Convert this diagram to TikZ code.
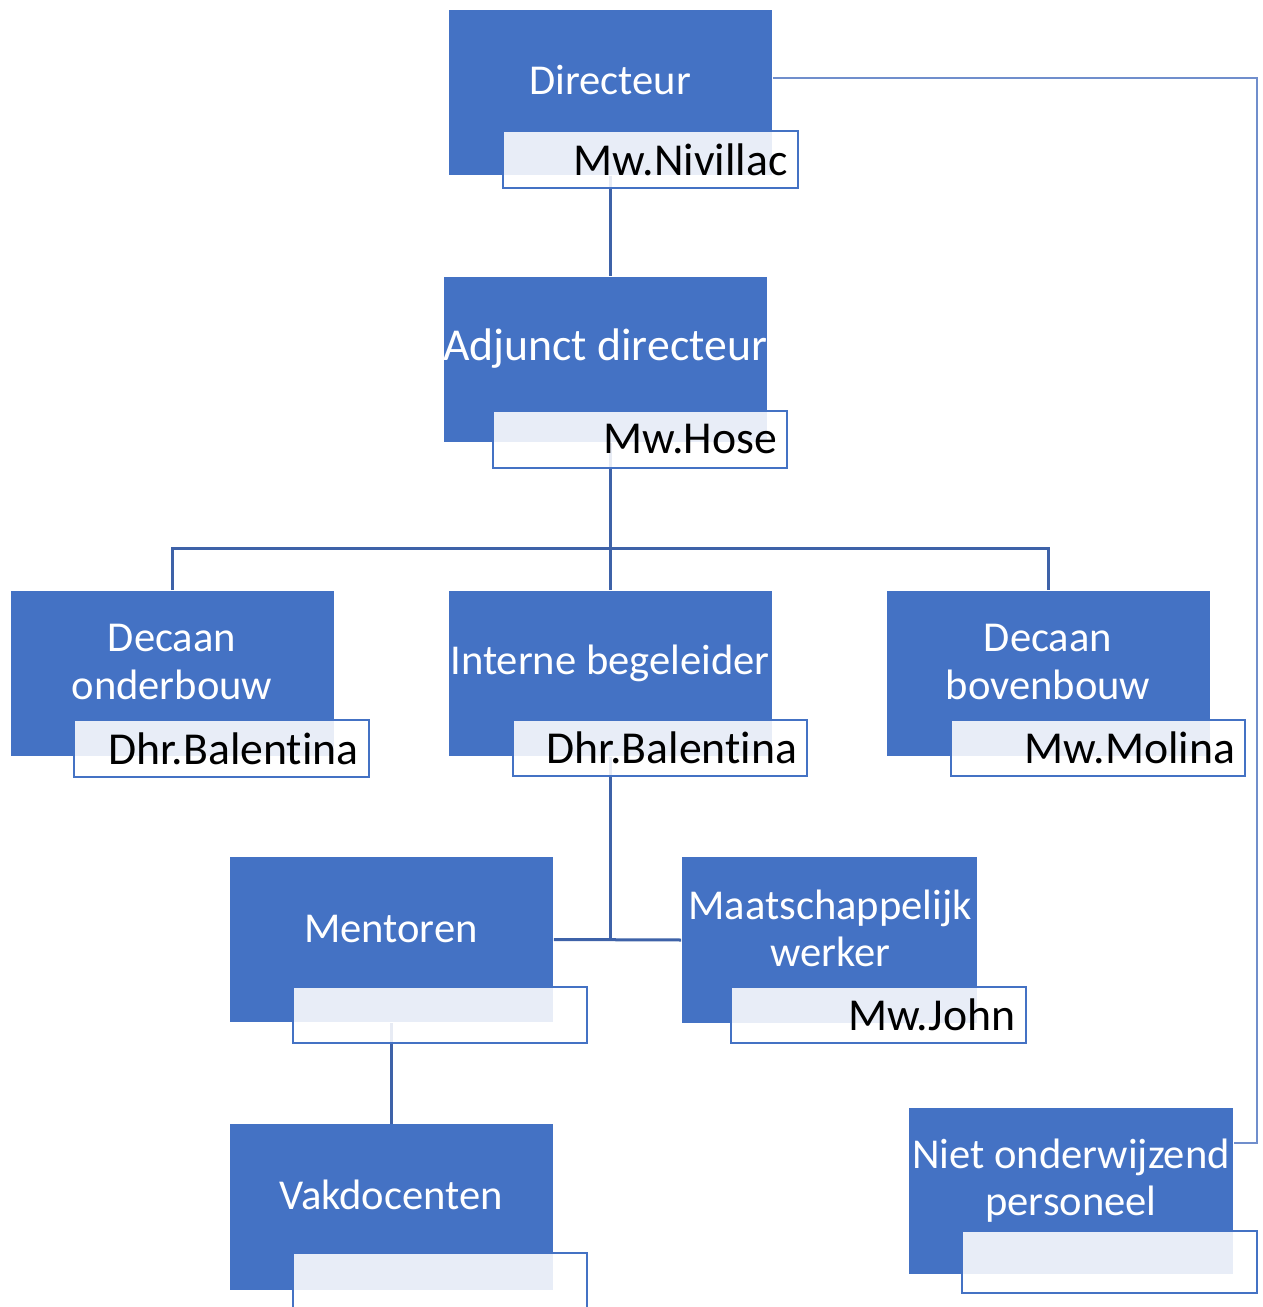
\documentclass[tikz,border=0pt]{standalone}
\usepackage{fontspec}
\setmainfont{Carlito}[Ligatures=CommonOff]
\usetikzlibrary{backgrounds}
\definecolor{roleblue}{RGB}{68,114,196}
\definecolor{linkblue}{RGB}{62,98,168}
\definecolor{lightlink}{RGB}{112,142,204}
\tikzset{
  role/.style={fill=roleblue, minimum width=3.23cm, minimum height=1.65cm, inner sep=0pt},
  roletext/.style={text=white, align=center, inner sep=0pt,
    font=\fontsize{12.1}{13.4}\selectfont},
  namebox/.style={draw=roleblue, line width=0.02cm, fill=white, fill opacity=0.88,
    text opacity=1, minimum width=2.94cm, minimum height=0.56cm, text width=2.74cm,
    align=right, inner xsep=0.1cm, inner ysep=0pt, font=\fontsize{13}{14}\selectfont},
  link/.style={draw=linkblue, line width=0.03cm},
  thinlink/.style={draw=lightlink, line width=0.015cm}
}
\begin{document}
\begin{tikzpicture}[x=0.01cm, y=-0.01cm]
  \useasboundingbox (0,0) rectangle (1262,1307);
  % roles
  \node[role] (dir) at (610.5,92.5) {};
  \node[role] (adj) at (605.5,359.5) {};
  \node[role] (don) at (172.5,673.5) {};
  \node[role] (int) at (610.5,673.5) {};
  \node[role] (dbo) at (1048.5,673.5) {};
  \node[role] (men) at (391.5,939.5) {};
  \node[role, minimum width=2.95cm] (maat) at (829.5,940) {};
  \node[role] (vak) at (391.5,1207) {};
  \node[role, minimum width=3.24cm] (niet) at (1071,1191) {};
  % titles
  \node[roletext] (dirT) at (610,80) {Directeur};
  \node[roletext, font=\fontsize{13}{14}\selectfont] (adjT) at (605,349) {Adjunct directeur};
  \node[roletext] (donT) at (172,662) {Decaan\\onderbouw};
  \node[roletext] (intT) at (610,663) {Interne begeleider};
  \node[roletext] (dboT) at (1048,662) {Decaan\\bovenbouw};
  \node[roletext] (menT) at (391,929) {Mentoren};
  \node[roletext] (maatT) at (830,928) {Maatschappelijk\\werker};
  \node[roletext] (vakT) at (391,1195) {Vakdocenten};
  \node[roletext] (nietT) at (1071,1181) {Niet onderwijzend\\personeel};
  % names
  \node[namebox] (dirN) at (650.5,159.5) {Mw.Nivillac};
  \node[namebox] (adjN) at (640,439.5) {Mw.Hose};
  \node[namebox] (donN) at (221.5,748.5) {Dhr.Balentina};
  \node[namebox] (intN) at (660,748) {Dhr.Balentina};
  \node[namebox] (dboN) at (1098,748) {Mw.Molina};
  \node[namebox] (menN) at (440,1015) {};
  \node[namebox] (maatN) at (878.5,1015) {Mw.John};
  \node[namebox] (vakN) at (440,1281) {};
  \node[namebox, minimum height=0.62cm] (nietN) at (1109.5,1262) {};
  % connectors
  \begin{scope}[on background layer]
    \coordinate (bus) at (610,549);
    \coordinate (sideTop) at (1257,78);
    \coordinate (sideBot) at (1257,1143);
    \draw[link] (dir.south) -- (adj.north -| dir.south);
    \draw[link] (int.north) -- (int.north |- adj.south);
    \draw[link] (don.north) |- (bus) -| (dbo.north);
    \draw[link] (int.south) -- (int.south |- men.east);
    \draw[link] (men.east) -- (maat.west);
    \draw[link] (men.south) -- (vak.north);
    \draw[thinlink] (sideTop -| dir.east) -- (sideTop) -- (sideBot) -- (sideBot -| niet.east);
  \end{scope}
\end{tikzpicture}
\end{document}
